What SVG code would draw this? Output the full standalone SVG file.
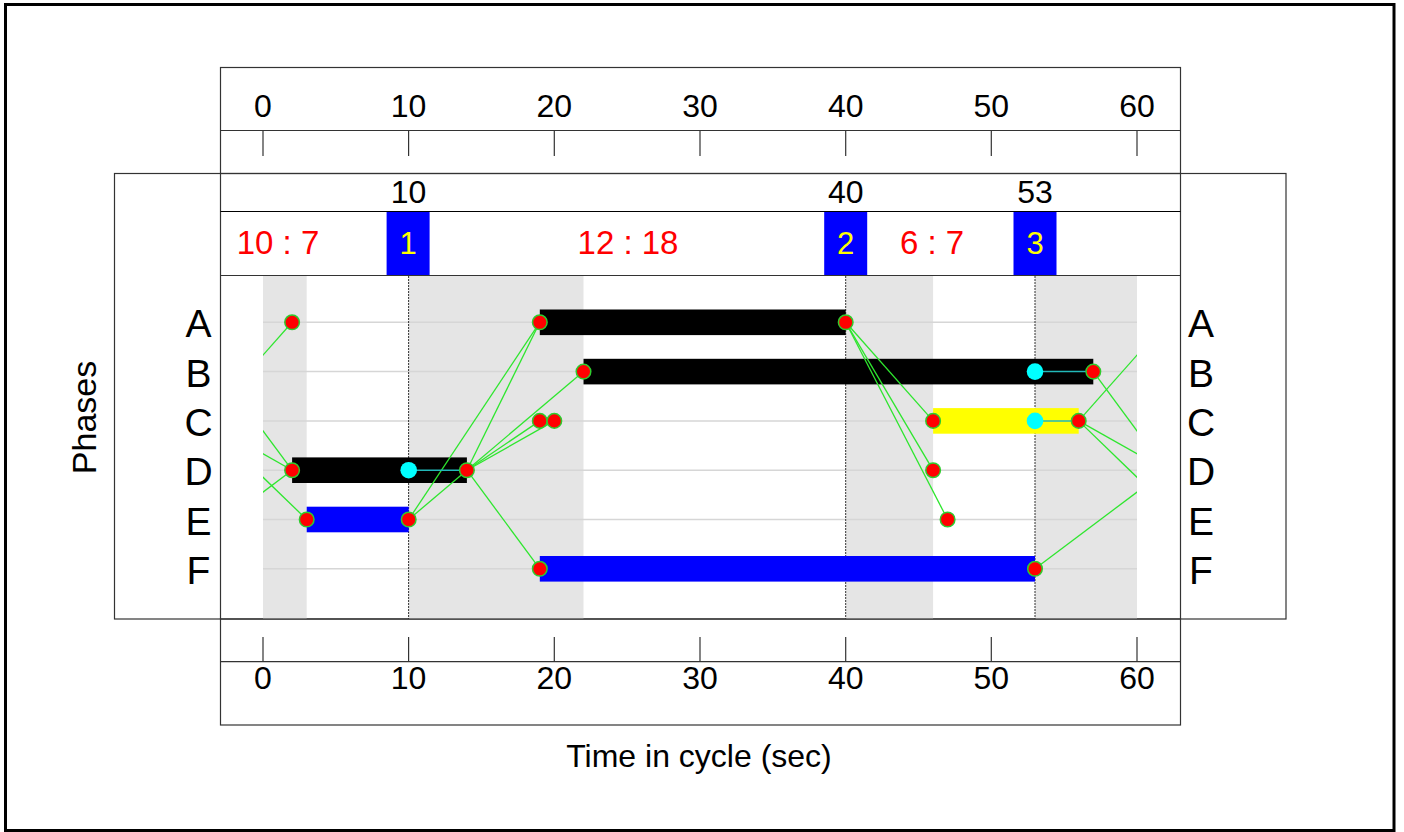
<svg xmlns="http://www.w3.org/2000/svg" width="1404" height="832" viewBox="0 0 1404 832">
<style>
text{font-family:"Liberation Sans",Arial,sans-serif;}
.num{font-size:32px;fill:#000;text-anchor:middle;}
.row{font-size:39px;fill:#000;text-anchor:middle;}
.ratio{font-size:33px;fill:#ff0000;text-anchor:middle;}
.stg{font-size:31px;fill:#ffff00;text-anchor:middle;}
.box{fill:none;stroke:#333;stroke-width:1.2;}
.tick{stroke:#333;stroke-width:1.2;}
.grid{stroke:#d6d6d6;stroke-width:1.5;}
.ig{fill:#e5e5e5;}
.vdash{stroke:#333;stroke-width:1;stroke-dasharray:2 1;}
.bk{fill:#000;}
.bl{fill:#0000ff;}
.ye{fill:#ffff00;}
.conn line{stroke:#2ee62e;stroke-width:1.3;}
.cy line{stroke:#22b8b8;stroke-width:1.5;}
.rd{fill:#ff0000;stroke:#2ecc2e;stroke-width:1.5;}
.cd{fill:#00ffff;}
</style>
<defs>
<clipPath id="plot"><rect x="263" y="276" width="874" height="343"/></clipPath>
</defs>
<rect x="5.5" y="4.5" width="1388.5" height="826" fill="#fff" stroke="#000" stroke-width="3"/>

<g id="top-axis">
<rect class="box" x="220.5" y="67.5" width="960" height="106"/>
<line class="tick" x1="220.5" y1="130.5" x2="1180.5" y2="130.5"/>
<g class="tick">
<line x1="263" y1="131" x2="263" y2="156"/><line x1="408.6" y1="131" x2="408.6" y2="156"/><line x1="554.3" y1="131" x2="554.3" y2="156"/><line x1="700" y1="131" x2="700" y2="156"/><line x1="845.7" y1="131" x2="845.7" y2="156"/><line x1="991.3" y1="131" x2="991.3" y2="156"/><line x1="1137" y1="131" x2="1137" y2="156"/>
</g>
<text class="num" x="263" y="117">0</text><text class="num" x="408.6" y="117">10</text><text class="num" x="554.3" y="117">20</text><text class="num" x="700" y="117">30</text><text class="num" x="845.7" y="117">40</text><text class="num" x="991.3" y="117">50</text><text class="num" x="1137" y="117">60</text>
</g>

<g id="main-frame">
<rect class="box" x="114.5" y="173.5" width="1171.5" height="445.5"/>
<line class="tick" x1="220.5" y1="173.5" x2="220.5" y2="619"/>
<line class="tick" x1="1180.5" y1="173.5" x2="1180.5" y2="619"/>
<line x1="220.5" y1="211.5" x2="1180.5" y2="211.5" stroke="#000" stroke-width="1.2"/>
<line class="tick" x1="220.5" y1="275.5" x2="1180.5" y2="275.5"/>
</g>

<g id="stage-times">
<text class="num" x="408.6" y="203">10</text>
<text class="num" x="845.7" y="203">40</text>
<text class="num" x="1035" y="203">53</text>
</g>

<g id="stage-1"><rect class="bl" x="386.6" y="212" width="43" height="63"/><text class="stg" x="408.1" y="253.5">1</text></g>
<g id="stage-2"><rect class="bl" x="824.2" y="212" width="43" height="63"/><text class="stg" x="845.7" y="253.5">2</text></g>
<g id="stage-3"><rect class="bl" x="1013.5" y="212" width="43" height="63"/><text class="stg" x="1035" y="253.5">3</text></g>

<g id="ratios">
<text class="ratio" x="278" y="254">10 : 7</text>
<text class="ratio" x="628" y="254">12 : 18</text>
<text class="ratio" x="932" y="254">6 : 7</text>
</g>

<g id="intergreens">
<rect class="ig" x="263" y="276" width="43.7" height="343"/>
<rect class="ig" x="408.6" y="276" width="174.9" height="343"/>
<rect class="ig" x="845.7" y="276" width="87.4" height="343"/>
<rect class="ig" x="1035" y="276" width="102" height="343"/>
</g>

<g id="grid">
<line class="grid" x1="263" y1="322.3" x2="1137" y2="322.3"/>
<line class="grid" x1="263" y1="371.6" x2="1137" y2="371.6"/>
<line class="grid" x1="263" y1="420.9" x2="1137" y2="420.9"/>
<line class="grid" x1="263" y1="470.2" x2="1137" y2="470.2"/>
<line class="grid" x1="263" y1="519.5" x2="1137" y2="519.5"/>
<line class="grid" x1="263" y1="568.8" x2="1137" y2="568.8"/>
<line class="vdash" x1="408.6" y1="276" x2="408.6" y2="619"/>
<line class="vdash" x1="845.7" y1="276" x2="845.7" y2="619"/>
<line class="vdash" x1="1035" y1="276" x2="1035" y2="619"/>
</g>

<g id="row-labels">
<text class="row" x="198.5" y="337.3">A</text><text class="row" x="198.5" y="386.6">B</text><text class="row" x="198.5" y="435.9">C</text><text class="row" x="198.5" y="485.2">D</text><text class="row" x="198.5" y="534.5">E</text><text class="row" x="198.5" y="583.8">F</text>
<text class="row" x="1201" y="337.3">A</text><text class="row" x="1201" y="386.6">B</text><text class="row" x="1201" y="435.9">C</text><text class="row" x="1201" y="485.2">D</text><text class="row" x="1201" y="534.5">E</text><text class="row" x="1201" y="583.8">F</text>
<text x="0" y="0" font-size="34" text-anchor="middle" transform="translate(96,417.5) rotate(-90)">Phases</text>
</g>

<g id="phase-A"><rect class="bk" x="539.8" y="309.5" width="305.9" height="25.6"/></g>
<g id="phase-B"><rect class="bk" x="583.5" y="358.8" width="509.8" height="25.6"/></g>
<g id="phase-C"><rect class="ye" x="933.1" y="408.1" width="145.6" height="25.6"/></g>
<g id="phase-D"><rect class="bk" x="292.1" y="457.4" width="174.8" height="25.6"/></g>
<g id="phase-E"><rect class="bl" x="306.7" y="506.7" width="102" height="25.6"/></g>
<g id="phase-F"><rect class="bl" x="539.8" y="556" width="495.2" height="25.6"/></g>

<g id="connectors">
<g class="conn" clip-path="url(#plot)">
<line x1="1078.7" y1="420.9" x2="1166.1" y2="322.3"/><line x1="204.7" y1="420.9" x2="292.1" y2="322.3"/>
<line x1="1093.3" y1="371.6" x2="1166.1" y2="470.2"/><line x1="219.3" y1="371.6" x2="292.1" y2="470.2"/>
<line x1="1078.7" y1="420.9" x2="1166.1" y2="470.2"/><line x1="204.7" y1="420.9" x2="292.1" y2="470.2"/>
<line x1="1078.7" y1="420.9" x2="1180.7" y2="519.5"/><line x1="204.7" y1="420.9" x2="306.7" y2="519.5"/>
<line x1="1035" y1="568.8" x2="1166.1" y2="470.2"/><line x1="161" y1="568.8" x2="292.1" y2="470.2"/>
</g>
<g class="conn">
<line x1="408.7" y1="519.5" x2="539.8" y2="322.3"/>
<line x1="408.7" y1="519.5" x2="466.9" y2="470.2"/>
<line x1="466.9" y1="470.2" x2="539.8" y2="322.3"/>
<line x1="466.9" y1="470.2" x2="583.5" y2="371.6"/>
<line x1="466.9" y1="470.2" x2="539.8" y2="420.9"/>
<line x1="466.9" y1="470.2" x2="554.3" y2="420.9"/>
<line x1="466.9" y1="470.2" x2="539.8" y2="568.8"/>
<line x1="845.7" y1="322.3" x2="933.1" y2="420.9"/>
<line x1="845.7" y1="322.3" x2="933.1" y2="470.2"/>
<line x1="845.7" y1="322.3" x2="947.6" y2="519.5"/>
</g>
<g class="cy">
<line x1="408.7" y1="470.2" x2="466.9" y2="470.2"/>
<line x1="1035" y1="371.6" x2="1093.3" y2="371.6"/>
<line x1="1035" y1="420.9" x2="1078.7" y2="420.9"/>
</g>
</g>

<g id="events">
<circle class="rd" cx="292.1" cy="322.3" r="7.3"/>
<circle class="rd" cx="292.1" cy="470.2" r="7.3"/>
<circle class="rd" cx="306.7" cy="519.5" r="7.3"/>
<circle class="rd" cx="408.7" cy="519.5" r="7.3"/>
<circle class="cd" cx="408.7" cy="470.2" r="8.3"/>
<circle class="rd" cx="466.9" cy="470.2" r="7.3"/>
<circle class="rd" cx="539.8" cy="322.3" r="7.3"/>
<circle class="rd" cx="539.8" cy="420.9" r="7.3"/>
<circle class="rd" cx="554.3" cy="420.9" r="7.3"/>
<circle class="rd" cx="539.8" cy="568.8" r="7.3"/>
<circle class="rd" cx="583.5" cy="371.6" r="7.3"/>
<circle class="rd" cx="845.7" cy="322.3" r="7.3"/>
<circle class="rd" cx="933.1" cy="420.9" r="7.3"/>
<circle class="rd" cx="933.1" cy="470.2" r="7.3"/>
<circle class="rd" cx="947.6" cy="519.5" r="7.3"/>
<circle class="cd" cx="1035" cy="371.6" r="8.3"/>
<circle class="cd" cx="1035" cy="420.9" r="8.3"/>
<circle class="rd" cx="1035" cy="568.8" r="7.3"/>
<circle class="rd" cx="1078.7" cy="420.9" r="7.3"/>
<circle class="rd" cx="1093.3" cy="371.6" r="7.3"/>
</g>

<g id="bottom-axis">
<rect class="box" x="220.5" y="619" width="960" height="106"/>
<line class="tick" x1="220.5" y1="661.7" x2="1180.5" y2="661.7"/>
<g class="tick">
<line x1="263" y1="637" x2="263" y2="662"/><line x1="408.6" y1="637" x2="408.6" y2="662"/><line x1="554.3" y1="637" x2="554.3" y2="662"/><line x1="700" y1="637" x2="700" y2="662"/><line x1="845.7" y1="637" x2="845.7" y2="662"/><line x1="991.3" y1="637" x2="991.3" y2="662"/><line x1="1137" y1="637" x2="1137" y2="662"/>
</g>
<text class="num" x="263" y="688.5">0</text><text class="num" x="408.6" y="688.5">10</text><text class="num" x="554.3" y="688.5">20</text><text class="num" x="700" y="688.5">30</text><text class="num" x="845.7" y="688.5">40</text><text class="num" x="991.3" y="688.5">50</text><text class="num" x="1137" y="688.5">60</text>
<text x="699" y="767" font-size="32" text-anchor="middle">Time in cycle (sec)</text>
</g>
</svg>
